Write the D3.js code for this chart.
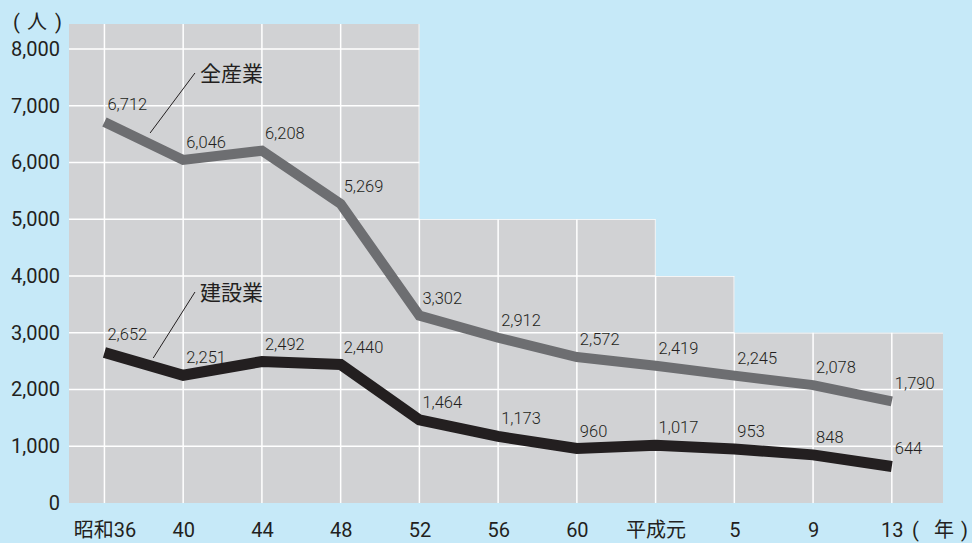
<!DOCTYPE html>
<html>
<head>
<meta charset="utf-8">
<script src="https://cdn.jsdelivr.net/npm/d3@7"></script>
<style>
  body { margin: 0; background: #c6e9f8; }
  svg { display: block; }
  text { font-family: Roboto, "Noto Sans CJK JP", sans-serif; fill: #231f20; }
</style>
</head>
<body>
<div id="chart"></div>
<script>
// categories (year labels)
const years = ["昭和36", "40", "44", "48", "52", "56", "60", "平成元", "5", "9", "13"];
// deaths, all industries
const allIndustry = [6712, 6046, 6208, 5269, 3302, 2912, 2572, 2419, 2245, 2078, 1790];
// deaths, construction
const construction = [2652, 2251, 2492, 2440, 1464, 1173, 960, 1017, 953, 848, 644];
// y ticks
const yTicks = [0, 1000, 2000, 3000, 4000, 5000, 6000, 7000, 8000];
// grey backdrop steps: starts at category index, top value
const stepFrom = [-0.45, 4, 7, 8, 10.65];
const stepTop = [8440, 5000, 4000, 3000, 3000];

const W = 972, H = 543;

const svg = d3.select("#chart").append("svg")
    .attr("width", W)
    .attr("height", H);

// scales
const x = d3.scaleLinear()
    .domain([-0.45, 10.65])
    .range([69, 943]);

const y = d3.scaleLinear()
    .domain([0, 8000])
    .range([503, 49]);

// grey stepped backdrop
const stepData = stepFrom.map((d, i) => ({i: d, v: stepTop[i]}));
const area = d3.area()
    .curve(d3.curveStepAfter)
    .x(d => x(d.i))
    .y0(y(0))
    .y1(d => y(d.v));

svg.append("clipPath")
    .attr("id", "bgClip")
    .append("path")
    .attr("d", area(stepData));

svg.append("path")
    .attr("d", area(stepData))
    .attr("fill", "#d1d2d4");

// grid lines
let grid = svg.append("g").attr("clip-path", "url(#bgClip)");

grid.selectAll(".hgrid")
    .data(yTicks.slice(1))
    .enter().append("line")
    .attr("class", "hgrid")
    .attr("x1", x(-0.45))
    .attr("x2", x(10.65))
    .attr("y1", d => y(d))
    .attr("y2", d => y(d))
    .attr("stroke", "#fff")
    .attr("stroke-width", 1.5);

grid.selectAll(".vgrid")
    .data(years)
    .enter().append("line")
    .attr("class", "vgrid")
    .attr("x1", (d, i) => x(i))
    .attr("x2", (d, i) => x(i))
    .attr("y1", 0)
    .attr("y2", y(0))
    .attr("stroke", "#fff")
    .attr("stroke-width", 1.5);

// axes
const yAxis = d3.axisLeft(y)
    .tickValues(yTicks)
    .tickFormat(d3.format(","))
    .tickSize(0)
    .tickPadding(9);

svg.append("g")
    .attr("class", "y-axis")
    .attr("transform", `translate(${x(-0.45)},0)`)
    .call(yAxis)
    .call(g => g.select(".domain").remove())
    .selectAll("text")
    .style("font-family", 'Roboto, "Noto Sans CJK JP", sans-serif')
    .style("font-size", "20px")
    .style("fill", "#231f20");

const xAxis = d3.axisBottom(x)
    .tickValues(d3.range(years.length))
    .tickFormat(i => years[i])
    .tickSize(0)
    .tickPadding(20);

svg.append("g")
    .attr("class", "x-axis")
    .attr("transform", `translate(0,${y(0)})`)
    .call(xAxis)
    .call(g => g.select(".domain").remove())
    .selectAll("text")
    .style("font-family", 'Roboto, "Noto Sans CJK JP", sans-serif')
    .style("font-size", "20px")
    .style("fill", "#231f20");

// unit labels
function unitLabel(parts, yPos) {
    let g = svg.append("g").style("font-size", "20px");
    parts.forEach(d => {
        g.append("text")
            .attr("x", d[1])
            .attr("y", yPos)
            .text(d[0]);
    });
}
unitLabel([["(", 13], ["人", 27], [")", 55]], 29);
unitLabel([["(", 912], ["年", 934], [")", 961]], 537);

// lines
const line = d3.line()
    .x((d, i) => x(i))
    .y(d => y(d));

svg.append("path")
    .datum(allIndustry)
    .attr("d", line)
    .attr("fill", "none")
    .attr("stroke", "#6d6e71")
    .attr("stroke-width", 10);

svg.append("path")
    .datum(construction)
    .attr("d", line)
    .attr("fill", "none")
    .attr("stroke", "#231f20")
    .attr("stroke-width", 11);

// value labels
[allIndustry, construction].forEach(series => {
    svg.append("g")
        .selectAll("text")
        .data(series)
        .enter().append("text")
        .attr("x", (d, i) => x(i) + 3)
        .attr("y", d => y(d) - 12)
        .style("font-size", "16.5px")
        .style("font-weight", 300)
        .text(d => d3.format(",")(d));
});

// series names with leader lines (positions in category index / value units)
const seriesNames = [
    {name: "全産業", fromI: 0.58, fromV: 6520, toI: 1.15, toV: 7577},
    {name: "建設業", fromI: 0.62, fromV: 2555, toI: 1.15, toV: 3718}
];

seriesNames.forEach(s => {
    svg.append("line")
        .attr("x1", x(s.fromI))
        .attr("y1", y(s.fromV))
        .attr("x2", x(s.toI))
        .attr("y2", y(s.toV))
        .attr("stroke", "#231f20")
        .attr("stroke-width", 1);
    svg.append("text")
        .attr("x", x(s.toI) + 5)
        .attr("y", y(s.toV) + 8)
        .style("font-size", "21px")
        .text(s.name);
});
</script>
</body>
</html>
